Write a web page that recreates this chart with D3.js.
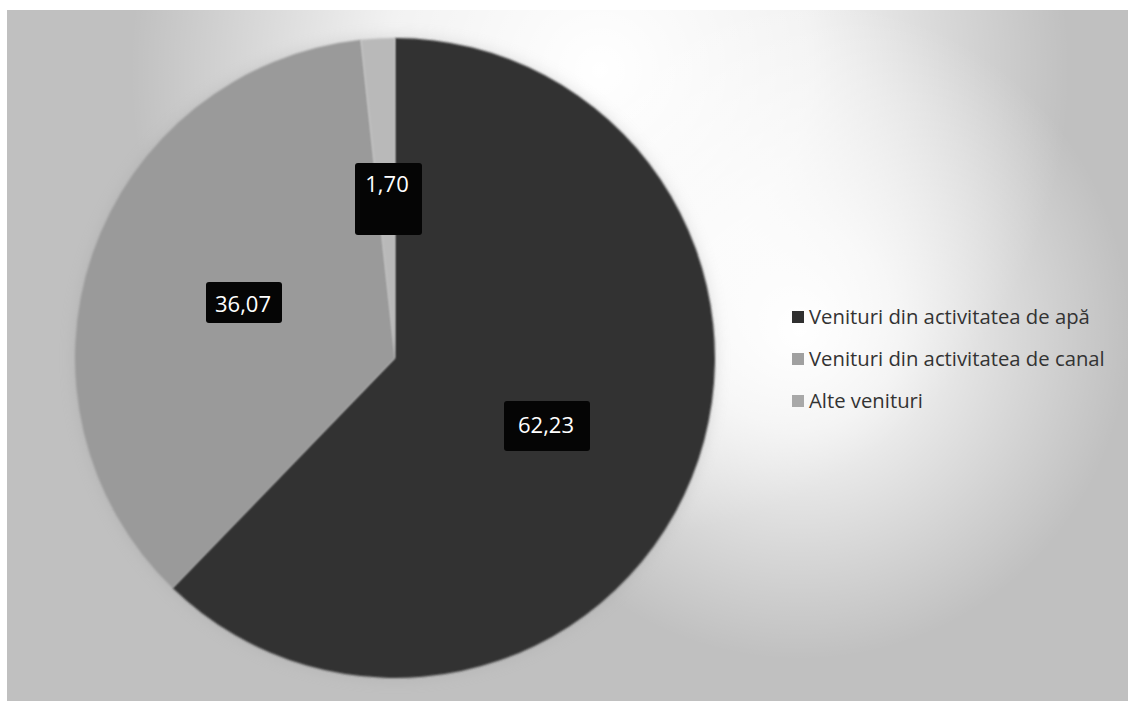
<!DOCTYPE html>
<html>
<head>
<meta charset="utf-8">
<script src="https://cdn.jsdelivr.net/npm/d3@7"></script>
<style>
  html, body { margin: 0; padding: 0; background: #fff; }
  svg { display: block; }
</style>
</head>
<body>
<div id="chart"></div>
<script>
// pie chart -- venituri by activity (values in %)
const categories = ['Venituri din activitatea de apă', 'Venituri din activitatea de canal', 'Alte venituri'];
const values = [62.23, 36.07, 1.70];
const valueLabels = ['62,23', '36,07', '1,70'];
const sliceColors = ['#333333', '#9a9a9a', '#b9b9b9'];
const legendColors = ['#303030', '#a0a0a0', '#a8a8a8'];

const width = 1128;
const height = 701;
const cx = 395, cy = 358, radius = 320;

const svg = d3.select('#chart').append('svg')
  .attr('width', width)
  .attr('height', height);

const defs = svg.append('defs');

function addGlow(id, x, y, r, mid) {
  const gr = defs.append('radialGradient')
    .attr('id', id)
    .attr('gradientUnits', 'userSpaceOnUse')
    .attr('cx', x).attr('cy', y).attr('r', r);
  gr.append('stop').attr('offset', 0).attr('stop-color', '#fff').attr('stop-opacity', 1);
  gr.append('stop').attr('offset', mid).attr('stop-color', '#fff').attr('stop-opacity', 0.8);
  gr.append('stop').attr('offset', 1).attr('stop-color', '#fff').attr('stop-opacity', 0);
}
addGlow('glowTop', 600, 70, 470, 0.45);
addGlow('glowSide', 800, 330, 330, 0.3);

const soft = defs.append('filter').attr('id', 'soft')
  .attr('x', '-10%').attr('y', '-10%').attr('width', '120%').attr('height', '120%');
soft.append('feGaussianBlur').attr('stdDeviation', 1.2);

const shadow = defs.append('filter').attr('id', 'shadow')
  .attr('x', '-10%').attr('y', '-10%').attr('width', '120%').attr('height', '120%');
shadow.append('feGaussianBlur').attr('stdDeviation', 8);

// background
const bg = svg.append('g');
['#c0c0c0', 'url(#glowTop)', 'url(#glowSide)'].forEach(f => {
  bg.append('rect')
    .attr('x', 7).attr('y', 10)
    .attr('width', width - 7).attr('height', height - 10)
    .attr('fill', f);
});

// pie
const pie = d3.pie().sort(null).value(d => d);
const arcs = pie(values);
const arc = d3.arc().innerRadius(0).outerRadius(radius);

const g = svg.append('g').attr('transform', `translate(${cx},${cy})`);

g.append('circle')
  .attr('r', radius)
  .attr('fill', '#999')
  .attr('opacity', 0.3)
  .attr('filter', 'url(#shadow)');

g.selectAll('path.slice')
  .data(arcs)
  .join('path')
  .attr('class', 'slice')
  .attr('d', arc)
  .attr('fill', (d, i) => sliceColors[i])
  .attr('filter', 'url(#soft)');

// data labels (black boxes)
const labelBoxes = [
  { x: 504, y: 401, w: 86, h: 50 },
  { x: 206, y: 282, w: 76, h: 41 },
  { x: 355, y: 163, w: 67, h: 72 }
];
const labelText = [
  { x: 546, y: 433 },
  { x: 243, y: 312 },
  { x: 387, y: 192 }
];

const labels = svg.append('g');
labelBoxes.forEach((b, i) => {
  labels.append('rect')
    .attr('x', b.x).attr('y', b.y)
    .attr('width', b.w).attr('height', b.h)
    .attr('rx', 3)
    .attr('fill', '#050505');
  labels.append('text')
    .attr('x', labelText[i].x).attr('y', labelText[i].y)
    .attr('text-anchor', 'middle')
    .attr('font-family', '"Open Sans", sans-serif')
    .attr('font-size', '22px')
    .attr('fill', '#fff')
    .text(valueLabels[i]);
});

// legend
const legend = svg.append('g').attr('transform', 'translate(792, 317)');
categories.forEach((cat, i) => {
  const row = legend.append('g').attr('transform', `translate(0,${i * 42})`);
  row.append('rect')
    .attr('x', 0).attr('y', -6)
    .attr('width', 12).attr('height', 12)
    .attr('fill', legendColors[i]);
  row.append('text')
    .attr('x', 17).attr('y', 7)
    .attr('font-family', '"Open Sans", sans-serif')
    .attr('font-size', '20.3px')
    .attr('fill', '#333')
    .text(cat);
});
</script>
</body>
</html>
